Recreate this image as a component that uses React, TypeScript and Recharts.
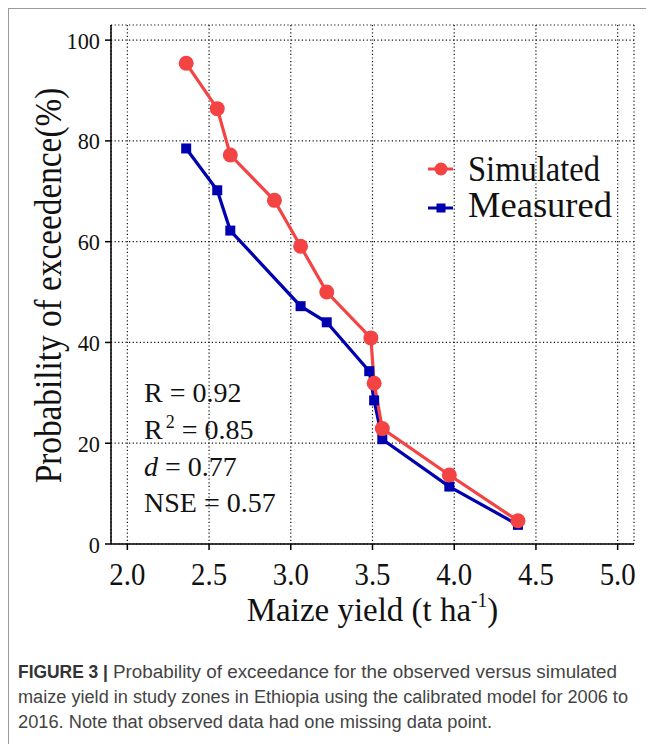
import React from 'react';
import { LineChart, Line, XAxis, YAxis, CartesianGrid } from 'recharts';

// Maize yield (t/ha) vs probability of exceedance (%)
const simYield = [2.36, 2.55, 2.63, 2.9, 3.06, 3.22, 3.49, 3.51, 3.56, 3.97, 4.39];
const simProb = [95.4, 86.4, 77.2, 68.2, 59.1, 50.0, 40.9, 31.9, 22.9, 13.7, 4.6];
const obsYield = [2.36, 2.55, 2.63, 3.06, 3.22, 3.48, 3.51, 3.56, 3.97, 4.39];
const obsProb = [78.5, 70.2, 62.2, 47.2, 44.0, 34.3, 28.5, 20.8, 11.4, 3.8];

const xTicks = [2.0, 2.5, 3.0, 3.5, 4.0, 4.5, 5.0];
const yTicks = [0, 20, 40, 60, 80, 100];

const simData = simYield.map((x, i) => ({ x, y: simProb[i] }));
const obsData = obsYield.map((x, i) => ({ x, y: obsProb[i] }));

const RED = '#f44343';
const BLUE = '#0000b0';
const SERIF = '"Liberation Serif", "Times New Roman", serif';
const SANS = '"Liberation Sans", Arial, sans-serif';

const W = 645;
const H = 640;

const XTick = ({ x, y, payload }: any) => (
  <g transform={`translate(${x},${y}) scale(0.93,1)`}>
    <text x={0} y={0} dy={35} textAnchor="middle" style={{ fontFamily: SERIF, fontSize: 31 }} fill="#111">
      {payload.value.toFixed(1)}
    </text>
  </g>
);

const YTick = ({ x, y, payload }: any) => (
  <g transform={`translate(${x},${y}) scale(0.93,1)`}>
    <text x={0} y={0} dy={8.5} textAnchor="end" style={{ fontFamily: SERIF, fontSize: 24 }} fill="#111">
      {payload.value}
    </text>
  </g>
);

const XTitle = ({ viewBox }: any) => {
  const cx = viewBox.x + viewBox.width / 2;
  return (
    <g transform={`translate(${cx},${viewBox.y + 77}) scale(0.97,1)`}>
      <text x={0} y={0} textAnchor="middle" style={{ fontFamily: SERIF, fontSize: 34 }} fill="#111">
        Maize yield (t ha
        <tspan style={{ fontSize: 20 }} dy={-14}>-1</tspan>
        <tspan dy={14}>)</tspan>
      </text>
    </g>
  );
};

const YTitle = ({ viewBox }: any) => {
  const cy = viewBox.y + viewBox.height / 2;
  return (
    <g transform={`translate(52,${cy + 1}) rotate(-90) scale(0.9,1)`}>
      <text x={0} y={0} textAnchor="middle" style={{ fontFamily: SERIF, fontSize: 37 }} fill="#111">
        Probability of exceedence(%)
      </text>
    </g>
  );
};

const Square = (props: any) => {
  const { cx, cy, index } = props;
  return <rect key={`sq-${index}`} x={cx - 5} y={cy - 5} width={10} height={10} fill={BLUE} />;
};

export default function App() {
  return (
    <div
      style={{
        position: 'relative',
        width: 646,
        height: 736,
        borderTop: '1px solid #9a9a9a',
        borderLeft: '1px solid #9a9a9a',
        boxSizing: 'border-box',
        overflow: 'hidden',
        background: '#fff',
      }}
    >
      <div style={{ position: 'absolute', left: 0, top: 0 }}>
        <LineChart width={W} height={H} margin={{ top: 16, right: 20, bottom: 0, left: 0 }}>
          <CartesianGrid stroke="#111" strokeDasharray="1.2 2.4" strokeWidth={1.2} />
          <XAxis
            dataKey="x"
            type="number"
            domain={[1.9, 5.1]}
            ticks={xTicks}
            height={105}
            stroke="#000"
            strokeWidth={1.5}
            tickSize={6}
            tickMargin={0}
            tick={<XTick />}
            label={<XTitle />}
          />
          <XAxis
            xAxisId="top"
            orientation="top"
            type="number"
            domain={[1.9, 5.1]}
            ticks={xTicks}
            height={0}
            mirror
            tick={false}
            tickSize={6}
            stroke="#000"
            strokeWidth={1.5}
          />
          <YAxis
            type="number"
            domain={[0, 103]}
            ticks={yTicks}
            width={102}
            stroke="#000"
            strokeWidth={1.5}
            tickSize={6}
            tickMargin={5}
            tick={<YTick />}
            label={<YTitle />}
          />
          <YAxis
            yAxisId="right"
            orientation="right"
            type="number"
            domain={[0, 103]}
            ticks={yTicks}
            width={0}
            mirror
            tick={false}
            tickSize={6}
            stroke="#000"
            strokeWidth={1.5}
          />
          <Line
            data={obsData}
            dataKey="y"
            name="Measured"
            stroke={BLUE}
            strokeWidth={3.2}
            dot={<Square />}
            isAnimationActive={false}
          />
          <Line
            data={simData}
            dataKey="y"
            name="Simulated"
            stroke={RED}
            strokeWidth={3.2}
            dot={{ r: 7.5, fill: RED, stroke: RED, strokeWidth: 0 }}
            isAnimationActive={false}
          />
        </LineChart>
      </div>
      <svg
        width={W}
        height={735}
        style={{ position: 'absolute', left: 0, top: 0, pointerEvents: 'none' }}
      >
        {/* legend */}
        <line x1={419} x2={444} y1={160} y2={160} stroke={RED} strokeWidth={3} />
        <circle cx={432} cy={160} r={6.5} fill={RED} />
        <text x={459} y={172} style={{ fontFamily: SERIF, fontSize: 35 }} fill="#111" textLength={132} lengthAdjust="spacingAndGlyphs">
          Simulated
        </text>
        <line x1={419} x2={444} y1={199} y2={199} stroke={BLUE} strokeWidth={3} />
        <rect x={427.5} y={194.5} width={9} height={9} fill={BLUE} />
        <text x={459} y={208} style={{ fontFamily: SERIF, fontSize: 35 }} fill="#111" textLength={144} lengthAdjust="spacingAndGlyphs">
          Measured
        </text>

        {/* goodness of fit */}
        <g style={{ fontFamily: SERIF, fontSize: 28 }} fill="#111">
          <text x={135} y={393}>R = 0.92</text>
          <text x={135} y={430}>
            R<tspan dx={3} dy={-11} style={{ fontSize: 18 }}>2</tspan>
            <tspan dy={11}> = 0.85</tspan>
          </text>
          <text x={135} y={467}>
            <tspan fontStyle="italic">d</tspan> = 0.77
          </text>
          <text x={135} y={503}>NSE = 0.57</text>
        </g>

        {/* caption */}
        <g style={{ fontFamily: SANS, fontSize: 18 }} fill="#444">
          <text x={9} y={669} fontWeight="bold" fill="#333" textLength={90} lengthAdjust="spacingAndGlyphs">
            FIGURE 3 |
          </text>
          <text x={104} y={669} textLength={504} lengthAdjust="spacingAndGlyphs">
            Probability of exceedance for the observed versus simulated
          </text>
          <text x={9} y={694} textLength={610} lengthAdjust="spacingAndGlyphs">
            maize yield in study zones in Ethiopia using the calibrated model for 2006 to
          </text>
          <text x={9} y={719} textLength={474} lengthAdjust="spacingAndGlyphs">
            2016. Note that observed data had one missing data point.
          </text>
        </g>
      </svg>
    </div>
  );
}
